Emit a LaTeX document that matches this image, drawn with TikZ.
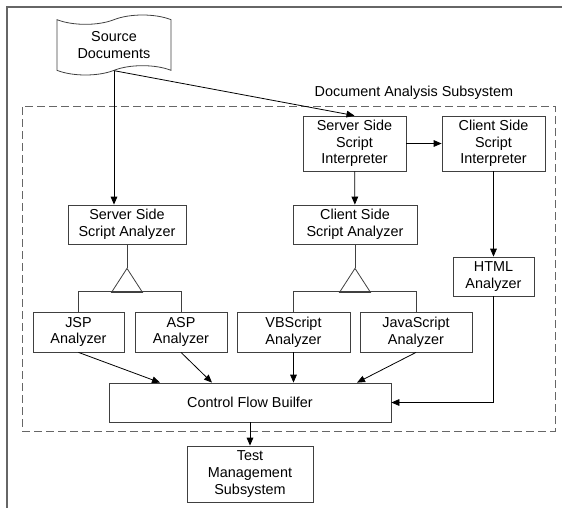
\documentclass[tikz,border=0pt]{standalone}
\usepackage{fontspec}
\setmainfont{Liberation Sans}
\usepackage{tikz}
\usetikzlibrary{shapes.symbols, positioning, arrows.meta, calc}

\begin{document}
\begin{tikzpicture}[
        x=0.75pt, y=-0.75pt,
        font=\fontsize{10.8pt}{12.5pt}\selectfont,
        box/.style={draw=black!75, rectangle, line width=0.6pt, align=center, inner sep=1pt, minimum height=29.25pt},
        doc/.style={draw=black!75, tape, line width=0.6pt, align=center, tape bend height=7pt, minimum width=85.5pt, minimum height=45pt},
        group/.style={draw=black!60, dash pattern=on 6pt off 3pt, line width=0.6pt, rectangle, minimum width=399.75pt, minimum height=243.75pt},
        arr/.style={-{Triangle[length=6pt, width=5pt]}, line width=0.6pt},
        link/.style={draw=black!75, line width=0.6pt}
    ]
    \useasboundingbox (0,0) rectangle (562,508);

    % Frame
    \draw[black!60, line width=0.8pt] (7,508) -- (7,7) -- (562,7);

    % Input
    \node[doc] (src) at (114,45) {Source\\Documents};

    % Document Analysis Subsystem
    \node[group] (das) at (288.5,268.5) {};
    \node[anchor=south east, inner sep=0pt] (dastitle) at ([xshift=-31.5pt, yshift=4.5pt]das.north east) {Document Analysis Subsystem};

    \node[box, minimum width=77.25pt, minimum height=41.25pt] (ssi) at (354.5,143.5) {Server Side\\Script\\Interpreter};
    \node[box, minimum width=77.25pt, minimum height=41.25pt] (csi) at (493.5,143.5) {Client Side\\Script\\Interpreter};
    \node[box, minimum width=88.5pt] (ssa) at (127,224.5) {Server Side\\Script Analyzer};
    \node[box, minimum width=93pt] (csa) at (355,224.5) {Client Side\\Script Analyzer};
    \node[box, minimum width=60.75pt] (html) at (493.5,276.5) {HTML\\Analyzer};

    \node[box, minimum width=68.25pt, minimum height=30pt] (jsp) at (78.5,332) {JSP\\Analyzer};
    \node[box, minimum width=69pt, minimum height=30pt] (asp) at (181,332) {ASP\\Analyzer};
    \node[box, minimum width=84.75pt, minimum height=30pt] (vbs) at (293.5,332) {VBScript\\Analyzer};
    \node[box, minimum width=84pt, minimum height=30pt] (js) at (416,332) {JavaScript\\Analyzer};

    \node[box, minimum width=211.5pt] (cfb) at (250,402.5) {Control Flow Builfer};

    % Output
    \node[box, minimum width=94.5pt, minimum height=42pt] (tms) at (250,474) {Test\\Management\\Subsystem};

    % Generalization
    \draw[link] (ssa.south) -- ++(0,24) coordinate (tri1);
    \draw[link] (tri1) -- ++(-15.5,24) -- ++(31,0) -- cycle;
    \draw[link] (jsp.north) -- ++(0,-20) -| (asp.north);
    \draw[link] (csa.south) -- ++(0,24) coordinate (tri2);
    \draw[link] (tri2) -- ++(-15.5,24) -- ++(31,0) -- cycle;
    \draw[link] (vbs.north) -- ++(0,-20) -| (js.north);

    % Arrows
    \draw[arr] (src.south) -- (src.south |- ssa.north);
    \draw[arr] (src.south) -- (ssi.north);
    \draw[arr] (ssi) -- (csi);
    \draw[arr] (ssi) -- (csa);
    \draw[arr] (csi) -- (html);
    \draw[arr] (jsp.south) -- ([xshift=-67.5pt]cfb.north);
    \draw[arr] (asp.south) -- ([xshift=-28.5pt]cfb.north);
    \draw[arr] (vbs.south) -- (vbs.south |- cfb.north);
    \draw[arr] (js.south) -- ([xshift=80.25pt]cfb.north);
    \draw[arr] (html.south) |- (cfb.east);
    \draw[arr] (cfb) -- (tms);

\end{tikzpicture}
\end{document}
